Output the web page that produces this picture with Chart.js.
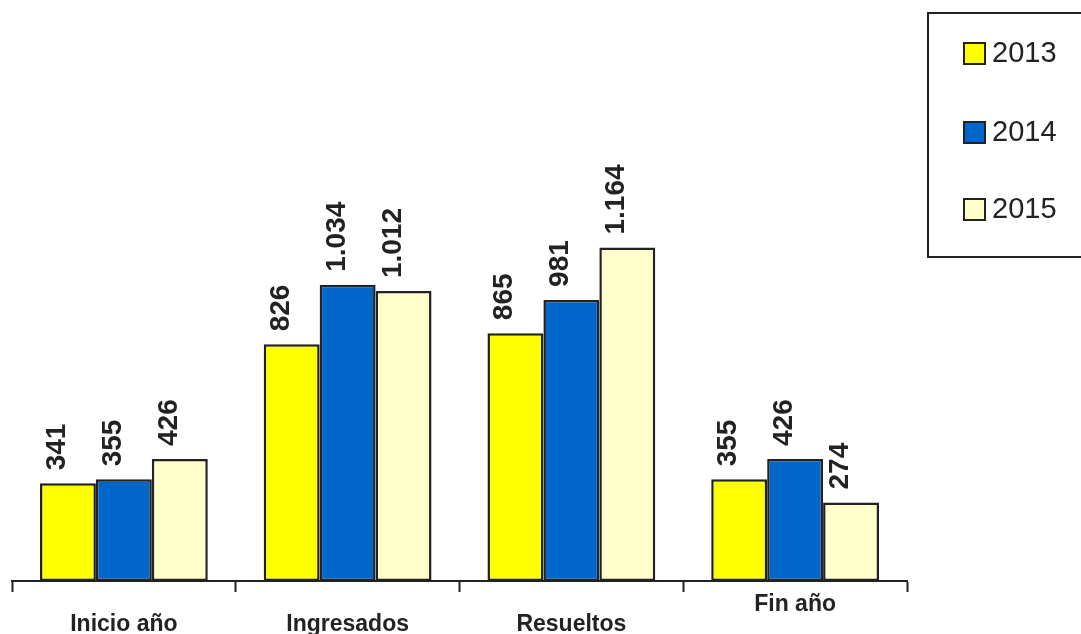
<!DOCTYPE html>
<html>
<head>
<meta charset="utf-8">
<script src="https://cdn.jsdelivr.net/npm/chart.js@4/dist/chart.umd.min.js"></script>
<style>
    html, body { margin: 0; padding: 0; background: #fff; overflow: hidden; }
    #wrap { position: relative; width: 1081px; height: 634px; }
</style>
</head>
<body>
<div id="wrap"><canvas id="chart" width="1081" height="634"></canvas></div>
<script>
// categories (the staggered label for "Fin año" sits one line higher)
const categories = [['', 'Inicio año'], ['', 'Ingresados'], ['', 'Resueltos'], ['Fin año']];
const seriesNames = ['2013', '2014', '2015'];
const values2013 = [341, 826, 865, 355];
const values2014 = [355, 1034, 981, 426];
const values2015 = [426, 1012, 1164, 274];
const seriesColors = ['#FFFF00', '#0066CC', '#FFFFCC'];

const INK = '#222222';

function formatNumber(value) {
    return value.toString().replace(/\B(?=(\d{3})+(?!\d))/g, '.');
}

const valueLabels = {
    id: 'valueLabels',
    afterDatasetsDraw(chart) {
        const ctx = chart.ctx;
        ctx.save();
        ctx.fillStyle = INK;
        ctx.font = 'bold 28px "Liberation Sans", Arial, sans-serif';
        ctx.textAlign = 'left';
        ctx.textBaseline = 'alphabetic';
        chart.data.datasets.forEach((dataset, i) => {
            chart.getDatasetMeta(i).data.forEach((bar, j) => {
                ctx.save();
                ctx.translate(bar.x - 3, bar.y - 13);
                ctx.rotate(-Math.PI / 2);
                ctx.fillText(formatNumber(dataset.data[j]), 0, 0);
                ctx.restore();
            });
        });
        ctx.restore();
    },
};

const boxLegend = {
    id: 'boxLegend',
    afterDraw(chart) {
        const ctx = chart.ctx;
        ctx.save();
        ctx.strokeStyle = INK;
        ctx.lineWidth = 2;
        ctx.strokeRect(928, 13, 170, 244);
        ctx.font = '29px "Liberation Sans", Arial, sans-serif';
        ctx.textBaseline = 'middle';
        ctx.textAlign = 'left';
        const rows = [53, 132, 209];
        chart.data.datasets.forEach((dataset, i) => {
            const y = rows[i];
            ctx.fillStyle = dataset.backgroundColor;
            ctx.fillRect(964, y - 10, 21, 21);
            ctx.strokeRect(964, y - 10, 21, 21);
            ctx.fillStyle = INK;
            ctx.fillText(dataset.label, 992, y + 1);
        });
        ctx.restore();
    },
};

const ctx = document.getElementById('chart').getContext('2d');
new Chart(ctx, {
    type: 'bar',
    data: {
        labels: categories,
        datasets: [values2013, values2014, values2015].map((values, i) => ({
            label: seriesNames[i],
            data: values,
            backgroundColor: seriesColors[i],
            borderColor: INK,
            borderWidth: 2.5,
            borderSkipped: false,
            categoryPercentage: 0.75,
            barPercentage: 1,
        })),
    },
    options: {
        responsive: false,
        animation: false,
        devicePixelRatio: 1,
        layout: {
            padding: { left: 12, right: 174, top: 8, bottom: 0 },
        },
        plugins: {
            legend: { display: false },
            tooltip: { enabled: false },
        },
        scales: {
            x: {
                grid: {
                    offset: true,
                    drawOnChartArea: false,
                    drawTicks: true,
                    tickLength: 11,
                    tickWidth: 2,
                    tickColor: INK,
                },
                border: { display: true, color: INK, width: 2 },
                ticks: {
                    color: INK,
                    padding: 3,
                    maxRotation: 0,
                    autoSkip: false,
                    font: { family: '"Liberation Sans", Arial, sans-serif', size: 23, weight: 'bold', lineHeight: '20px' },
                },
                afterFit(scale) {
                    scale.height = 53;
                },
            },
            y: {
                display: false,
                min: 0,
                max: 2000,
            },
        },
    },
    plugins: [valueLabels, boxLegend],
});
</script>
</body>
</html>
